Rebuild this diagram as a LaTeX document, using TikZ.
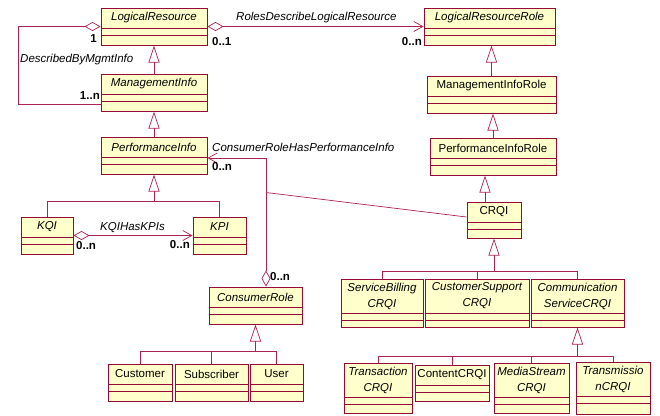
\documentclass[tikz,border=0pt]{standalone}
\usepackage{fontspec}
\setmainfont{Liberation Sans}
\usetikzlibrary{arrows.meta,calc,fit}
\definecolor{umlfill}{RGB}{255,255,204}
\definecolor{umldark}{RGB}{150,10,55}
\definecolor{umlline}{RGB}{170,35,80}
\tikzset{
  cls/.style={draw=umldark, fill=umlfill, line width=1pt, inner sep=0pt},
  comp/.style={draw=umldark, line width=0.7pt},
  abs/.style={font=\itshape\fontsize{11.5}{16}\selectfont, align=center, inner sep=0pt},
  conc/.style={font=\fontsize{11.5}{16}\selectfont, align=center, inner sep=0pt},
  assoc/.style={draw=umlline, line width=0.7pt},
  gen/.style={assoc, -{Triangle[open, length=17pt, width=11pt]}},
  aggplain/.style={assoc, {Diamond[open, length=16pt, width=9pt]}-},
  aggnav/.style={assoc, {Diamond[open, length=16pt, width=9pt]}-{Straight Barb[length=9pt, width=10pt]}},
  mult/.style={font=\bfseries\fontsize{11.5}{13}\selectfont, inner sep=0pt},
  rolename/.style={font=\itshape\fontsize{11.5}{13}\selectfont, inner sep=0pt},
}
% class box: [name style](node)(left,top)(right,bottom)[name compartment height]{text}
\def\umlclass[#1](#2)(#3,#4)(#5,#6)[#7]#8{%
  \node[cls, fit={(#3,#4) (#5,#6)}] (#2) {};
  \draw[comp] (#3,#4+#7) -- (#5,#4+#7);
  \draw[comp] (#3,#4+#7+7) -- (#5,#4+#7+7);
  \node[#1] (#2-name) at ({(#3+#5)/2},{#4+#7/2}) {#8};
}

\begin{document}
\begin{tikzpicture}[x=1pt,y=-1pt]
		\useasboundingbox (0,0) rectangle (660,415);
		%%%%% CLASSES %%%%%
		
		\umlclass[abs](lr)(101,8)(207,45)[20]{LogicalResource}
		\umlclass[abs](mi)(101,74)(207,111)[20]{ManagementInfo}
		\umlclass[abs](pi)(101,137)(207,174)[20]{PerformanceInfo}
		\umlclass[abs](kqi)(21,217)(73,254)[20]{KQI}
		\umlclass[abs](kpi)(193,217)(246,254)[20]{KPI}
		\umlclass[abs](cr)(209,287)(302,324)[20]{ConsumerRole}
		\umlclass[conc](cu)(108,364)(172,401)[20]{Customer}
		\umlclass[conc](sub)(175,364)(248,401)[20]{Subscriber}
		\umlclass[conc](usr)(250,364)(303,401)[20]{User}
		
		\umlclass[abs](lrr)(424,8)(555,45)[20]{LogicalResourceRole}
		\umlclass[conc](mir)(427,76)(556,113)[20]{ManagementInfoRole}
		\umlclass[conc](pir)(430,138)(556,175)[20]{PerformanceInfoRole}
		\umlclass[conc](crqi)(467,202)(521,238)[20]{CRQI}
		
		\umlclass[abs](sb)(341,279)(423,327)[34]{ServiceBilling\\CRQI}
		\umlclass[abs](cs)(425,279)(529,327)[34]{CustomerSupport\\CRQI}
		\umlclass[abs](csc)(531,279)(624,327)[34]{Communication\\ServiceCRQI}
		
		\umlclass[abs](tr)(344,363)(412,413)[34]{Transaction\\CRQI}
		\umlclass[conc](cc)(415,365)(489,401)[20]{ContentCRQI}
		\umlclass[abs](ms)(494,363)(569,413)[34]{MediaStream\\CRQI}
		\umlclass[abs](tm)(576,362)(650,414)[34]{Transmissio\\nCRQI}
		
		%%%%% GENERALIZATIONS %%%%%
		
		\draw[gen] (mi.north) -- (lr.south);
		\draw[gen] (pi.north) -- (mi.south);
		
		\coordinate (kBus) at ($(pi.south)+(0,27)$);
		\draw[gen] (kBus) -- (pi.south);
		\draw[assoc] (kqi.north) -- (kqi.north |- kBus) -- (kpi.north |- kBus) -- (kpi.north);
		
		\coordinate (cBus) at ($(cr.south)+(0,27)$);
		\draw[gen] (cBus) -- (cr.south);
		\draw[assoc] (cu.north) -- (cu.north |- cBus) -- (usr.north |- cBus) -- (usr.north);
		\draw[assoc] (sub.north) -- (sub.north |- cBus);
		
		\draw[gen] (mir.north) -- (mir.north |- lrr.south);
		\draw[gen] (pir.north) -- (pir.north |- mir.south);
		\draw[gen] ([xshift=-9pt]crqi.north) -- ([xshift=-9pt]crqi.north |- pir.south);
		
		\coordinate (qBus) at ($(crqi.south)+(0,33)$);
		\draw[gen] (qBus) -- (crqi.south);
		\draw[assoc] (sb.north) -- (sb.north |- qBus) -- (csc.north |- qBus) -- (csc.north);
		\draw[assoc] (cs.north) -- (cs.north |- qBus);
		
		\coordinate (sBus) at ($(csc.south)+(0,29)$);
		\draw[gen] (sBus) -- (csc.south);
		\draw[assoc] (tr.north) -- (tr.north |- sBus) -- (tm.north |- sBus) -- (tm.north);
		\draw[assoc] (cc.north) -- (cc.north |- sBus);
		\draw[assoc] (ms.north) -- (ms.north |- sBus);
		
		%%%%% ASSOCIATIONS %%%%%
		
		\draw[aggplain] (lr.west) -- ++(-82,0) |- ($(mi.south west)+(0,-7)$);
		\node[rolename, anchor=west] (descLbl) at (20,60) {DescribedByMgmtInfo};
		\node[mult, anchor=east] (descOne) at (97,39) {1};
		\node[mult, anchor=east] (descMany) at (100,96) {1..n};
		
		\draw[aggnav] (lr.east) -- (lrr.west);
		\node[rolename, anchor=west] (rolesLbl) at (236,18) {RolesDescribeLogicalResource};
		\node[mult, anchor=west] (rolesOne) at (212,42) {0..1};
		\node[mult, anchor=east] (rolesMany) at (422,42) {0..n};
		
		\draw[aggnav] (kqi.east) -- (kpi.west);
		\node[rolename, anchor=west] (kpiLbl) at (100,228) {KQIHasKPIs};
		\node[mult, anchor=west] (kpiSrc) at (76,246) {0..n};
		\node[mult, anchor=east] (kpiDst) at (190,245) {0..n};
		
		\coordinate (crTop) at ($(cr.north)+(10.5,0)$);
		\draw[aggnav] (crTop) |- ([yshift=-2.5pt]pi.east);
		\node[rolename, anchor=west] (perfLbl) at (212,147) {ConsumerRoleHasPerformanceInfo};
		\node[mult, anchor=west] (perfDst) at (212,167) {0..n};
		\node[mult, anchor=west] (perfSrc) at (270,277) {0..n};
		
		\coordinate (crLink) at ($(crTop)+(0,-94)$);
		\draw[assoc] (crLink) -- ([yshift=3pt]crqi.west);
		
\end{tikzpicture}
\end{document}
